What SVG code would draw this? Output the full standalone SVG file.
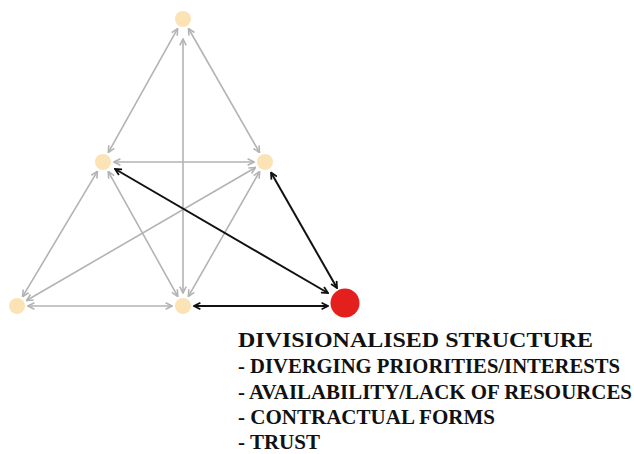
<svg xmlns="http://www.w3.org/2000/svg" width="634" height="454" viewBox="0 0 634 454">
<style>
.g{stroke:#b3b3b3;stroke-width:1.6;fill:none;marker-start:url(#ag);marker-end:url(#ag)}
.k{stroke:#111;stroke-width:2;fill:none;marker-start:url(#ak);marker-end:url(#ak)}
.n{fill:#fce3b6}
.r{fill:#e3201e}
text{font-family:"Liberation Serif","Times New Roman",serif;font-weight:bold;font-size:21px;fill:#111}
</style>
<defs>
<marker id="ag" viewBox="0 0 10 10" refX="9" refY="5" markerWidth="8" markerHeight="8" markerUnits="userSpaceOnUse" orient="auto-start-reverse"><path d="M1,1 L9,5 L1,9" fill="none" stroke="#b3b3b3" stroke-width="2"/></marker>
<marker id="ak" viewBox="0 0 10 10" refX="9" refY="5" markerWidth="8" markerHeight="8" markerUnits="userSpaceOnUse" orient="auto-start-reverse"><path d="M1,1 L9,5 L1,9" fill="none" stroke="#111" stroke-width="2.2"/></marker>
</defs>
<g id="connectors">
<line class="g" x1="177.6" y1="28.6" x2="108.4" y2="152.4"/>
<line class="g" x1="188.5" y1="28.5" x2="259.5" y2="152.5"/>
<line class="g" x1="183" y1="39" x2="183" y2="293"/>
<line class="g" x1="114" y1="162" x2="254" y2="162"/>
<line class="g" x1="97.4" y1="171.4" x2="22.6" y2="296.6"/>
<line class="g" x1="108.3" y1="171.6" x2="177.7" y2="296.4"/>
<line class="g" x1="255.5" y1="167.5" x2="26.5" y2="300.5"/>
<line class="g" x1="259.6" y1="171.6" x2="188.4" y2="296.4"/>
<line class="g" x1="28" y1="306" x2="172" y2="306"/>
<line class="k" x1="115" y1="169" x2="328" y2="293"/>
<line class="k" x1="271" y1="172.5" x2="337" y2="288"/>
<line class="k" x1="194" y1="306" x2="328" y2="306"/>
</g>
<g id="node-top"><circle class="n" cx="183" cy="19" r="8"/></g>
<g id="node-midleft"><circle class="n" cx="103" cy="162" r="8"/></g>
<g id="node-midright"><circle class="n" cx="265" cy="162" r="8"/></g>
<g id="node-bottomleft"><circle class="n" cx="17" cy="306" r="8"/></g>
<g id="node-bottommid"><circle class="n" cx="183" cy="306" r="8"/></g>
<g id="node-red"><circle class="r" cx="345" cy="303" r="14.5"/></g>
<g id="label">
<text x="238" y="347" textLength="355" lengthAdjust="spacingAndGlyphs">DIVISIONALISED STRUCTURE</text>
<text x="238" y="373" textLength="382" lengthAdjust="spacingAndGlyphs">- DIVERGING PRIORITIES/INTERESTS</text>
<text x="238" y="399" textLength="394" lengthAdjust="spacingAndGlyphs">- AVAILABILITY/LACK OF RESOURCES</text>
<text x="238" y="424" textLength="257" lengthAdjust="spacingAndGlyphs">- CONTRACTUAL FORMS</text>
<text x="238" y="449" textLength="82" lengthAdjust="spacingAndGlyphs">- TRUST</text>
</g>
</svg>
